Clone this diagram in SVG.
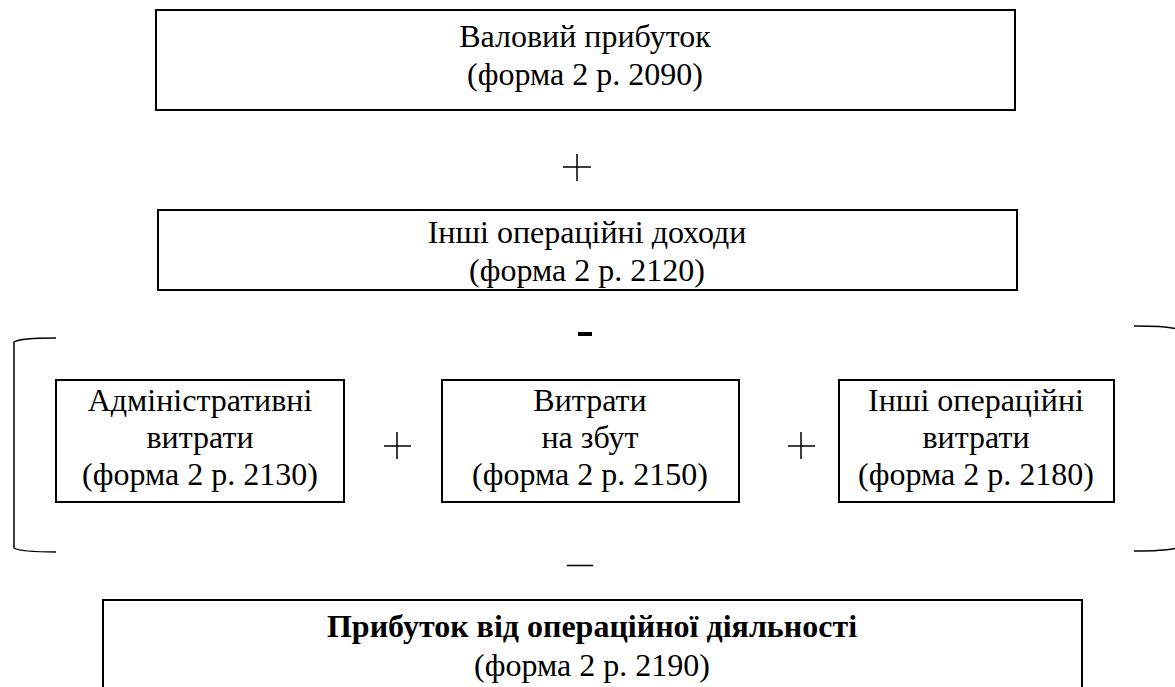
<svg xmlns="http://www.w3.org/2000/svg" width="1175" height="687" viewBox="0 0 1175 687">
<style>
.box{fill:#fff;stroke:#000;stroke-width:2}
.t{font-family:'Liberation Serif','DejaVu Serif',serif;font-size:32px;fill:#000;text-anchor:middle}
.b{font-weight:bold}
.op{stroke:#000;stroke-width:1.5;fill:none}
.br{stroke:#000;stroke-width:1.5;fill:none}
</style>
<rect width="1175" height="687" fill="#fff"/>
<g id="n1">
<rect class="box" x="156" y="10" width="859" height="100"/>
<text class="t" x="585" y="47">Валовий прибуток</text>
<text class="t" x="585" y="85">(форма 2 р. 2090)</text>
</g>
<g id="n2">
<rect class="box" x="158" y="210" width="859" height="80"/>
<text class="t" x="587" y="243">Інші операційні доходи</text>
<text class="t" x="587" y="281">(форма 2 р. 2120)</text>
</g>
<g id="n3">
<rect class="box" x="56" y="380" width="288" height="122"/>
<text class="t" x="200" y="411">Адміністративні</text>
<text class="t" x="200" y="448">витрати</text>
<text class="t" x="200" y="485">(форма 2 р. 2130)</text>
</g>
<g id="n4">
<rect class="box" x="442" y="380" width="297" height="122"/>
<text class="t" x="590" y="411">Витрати</text>
<text class="t" x="590" y="448">на збут</text>
<text class="t" x="590" y="485">(форма 2 р. 2150)</text>
</g>
<g id="n5">
<rect class="box" x="839" y="380" width="275" height="122"/>
<text class="t" x="976" y="411">Інші операційні</text>
<text class="t" x="976" y="448">витрати</text>
<text class="t" x="976" y="485">(форма 2 р. 2180)</text>
</g>
<g id="n6">
<rect class="box" x="103" y="600" width="979" height="100"/>
<text class="t b" x="592" y="637">Прибуток від операційної діяльності</text>
<text class="t" x="592" y="676">(форма 2 р. 2190)</text>
</g>
<g id="connectors">
<path class="op" d="M563 167H591M577 154V181"/>
<rect x="578" y="332" width="14" height="4" fill="#000"/>
<path class="op" d="M384 446H411M397 432V459"/>
<path class="op" d="M788 446H815M801 432V459"/>
<path class="op" d="M567 565.5H593" stroke-width="2"/>
<path class="br" d="M56 338Q20 338 14 342V548Q20 552 56 552"/>
<path class="br" d="M1134 326Q1165 326 1175 328.5"/>
<path class="br" d="M1134 551Q1165 551 1175 548.5"/>
</g>
</svg>
